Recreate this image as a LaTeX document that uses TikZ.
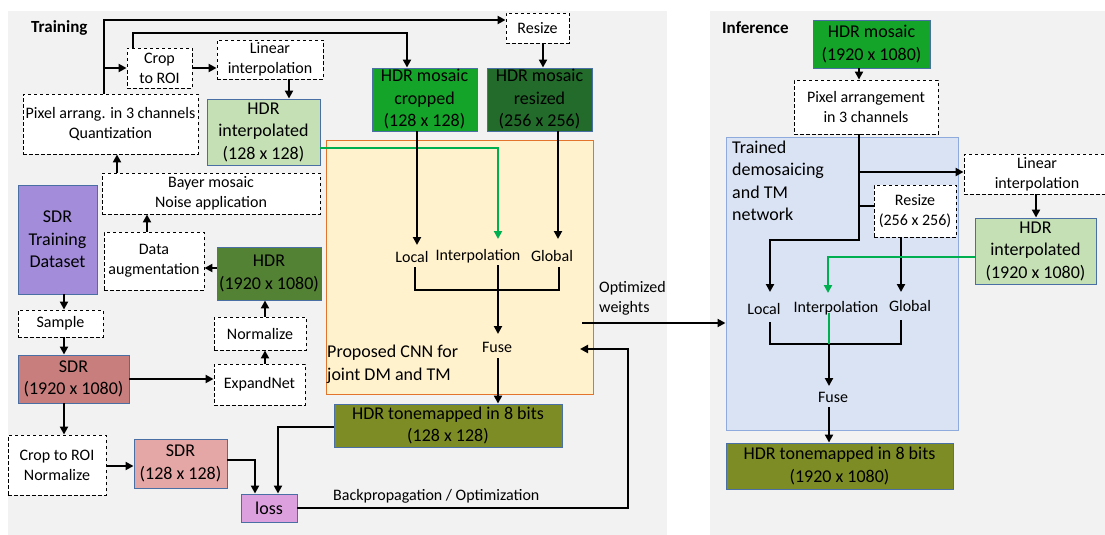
\documentclass[tikz,border=0pt]{standalone}
\usepackage{fontspec}
\setmainfont{Carlito}
\usetikzlibrary{arrows.meta}
\definecolor{panel}{HTML}{F2F2F2}
\definecolor{bgreen}{HTML}{14A42A}
\definecolor{dgreen}{HTML}{226B2B}
\definecolor{mgreen}{HTML}{548235}
\definecolor{lgreen}{HTML}{C5E0B4}
\definecolor{bbord}{HTML}{4A6FA5}
\definecolor{orfill}{HTML}{FFF2CC}
\definecolor{orbord}{HTML}{E2742C}
\definecolor{blfill}{HTML}{DAE3F3}
\definecolor{blbord}{HTML}{8FAADC}
\definecolor{olive}{HTML}{7E8C26}
\definecolor{rose}{HTML}{C87E7D}
\definecolor{pink}{HTML}{E5A6A6}
\definecolor{plum}{HTML}{DCA0DE}
\definecolor{purp}{HTML}{A38CDA}
\definecolor{gline}{HTML}{00B050}
\begin{document}
\begin{tikzpicture}[x=1pt,y=-1pt,
  big/.style={font=\fontsize{18}{22.5}\selectfont},
  small/.style={font=\fontsize{16}{20}\selectfont},
  dbox/.style={small,draw=black,fill=white,line width=0.9pt,dash pattern=on 3.5pt off 2.5pt,align=center,inner sep=0pt},
  cbox/.style={big,draw=bbord,line width=0.9pt,align=center,inner sep=0pt},
  lbl/.style={small,inner sep=1pt},
  ln/.style={line width=2.3pt},
  arr/.style={line width=2.3pt,-{Triangle[length=8pt,width=8pt]}},
  garr/.style={line width=2pt,draw=gline,-{Triangle[length=8pt,width=8pt]}},
  gln/.style={line width=2pt,draw=gline}]
\useasboundingbox (0,0) rectangle (1105,535);
% panels
\fill[panel] (8,11) rectangle (667,535);
\fill[panel] (710,11) rectangle (1105,535);
\node[font=\fontsize{17}{20}\selectfont\bfseries,anchor=west,inner sep=0pt] (ttl) at (31,28) {Training};
\node[font=\fontsize{17}{20}\selectfont\bfseries,anchor=west,inner sep=0pt] (ttl2) at (722,28) {Inference};
% containers
\node[draw=orbord,fill=orfill,line width=1pt,minimum width=267,minimum height=254,inner sep=0pt] (cnn) at (459.5,267) {};
\node[draw=blbord,fill=blfill,line width=1pt,minimum width=232,minimum height=293,inner sep=0pt] (net) at (842,283.5) {};
% training nodes
\node[dbox,minimum width=65,minimum height=40] (crop) at (159.5,68) {Crop\\to ROI};
\node[dbox,minimum width=106,minimum height=39] (lin) at (270,59.5) {Linear\\interpolation};
\node[dbox,minimum width=175,minimum height=60] (pix) at (110.5,124) {Pixel arrang. in 3 channels\\Quantization};
\node[cbox,fill=lgreen,minimum width=113,minimum height=66] (hdri) at (263.5,132) {HDR\\interpolated\\(128 x 128)};
\node[dbox,minimum width=63,minimum height=30] (resize) at (537.5,28) {Resize};
\node[cbox,fill=bgreen,minimum width=105,minimum height=63] (mcrop) at (424.5,99.5) {HDR mosaic\\cropped\\(128 x 128)};
\node[cbox,fill=dgreen,minimum width=105,minimum height=63] (mres) at (539.5,99.5) {HDR mosaic\\resized\\(256 x 256)};
\node[dbox,minimum width=218,minimum height=41] (bayer) at (211,193.5) {Bayer mosaic\\Noise application};
\node[cbox,fill=purp,minimum width=79,minimum height=109] (sdrds) at (57.5,239.5) {SDR\\Training\\Dataset};
\node[dbox,minimum width=100,minimum height=58] (aug) at (154,261) {Data\\augmentation};
\node[cbox,fill=mgreen,minimum width=104,minimum height=53] (hdr) at (269,273.5) {HDR\\(1920 x 1080)};
\node[dbox,minimum width=85,minimum height=27] (sample) at (60.5,323.5) {Sample};
\node[dbox,minimum width=92,minimum height=33] (norm) at (260,333.5) {Normalize};
\node[cbox,fill=rose,minimum width=111,minimum height=48] (sdr) at (73.5,379) {SDR\\(1920 x 1080)};
\node[dbox,minimum width=91,minimum height=41] (expand) at (259.5,384.5) {ExpandNet};
\node[dbox,minimum width=98,minimum height=60] (cropn) at (57,465) {Crop to ROI\\Normalize};
\node[cbox,fill=pink,minimum width=93,minimum height=49] (sdr128) at (180.5,463.5) {SDR\\(128 x 128)};
\node[cbox,fill=plum,minimum width=56,minimum height=28] (loss) at (269,508) {loss};
\node[cbox,fill=olive,minimum width=228,minimum height=43] (tm) at (448,425.5) {HDR tonemapped in 8 bits\\(128 x 128)};
\node[lbl] (local) at (412,257) {Local};
\node[lbl] (interp) at (478,256) {Interpolation};
\node[lbl] (global) at (552,256) {Global};
\node[lbl] (fuse) at (497,347) {Fuse};
\node[big,anchor=west,align=left,inner sep=0pt] (cnnt) at (327,364.5) {Proposed CNN for\\joint DM and TM};
\node[small,anchor=west,align=left,inner sep=0pt] (optw) at (599,298) {Optimized\\weights};
\node[small,anchor=west,inner sep=0pt] (bp) at (333,496) {Backpropagation / Optimization};
% training connectors
\coordinate (t1) at (104,20);
\coordinate (t2) at (133,33);
\coordinate (t2a) at (407,33);
\draw[arr] (pix.north -| t1) |- (resize.west |- t1);
\draw[arr] (crop.west -| t1) -- (crop.west);
\draw[arr] (crop.north -| t2) -- (t2) -- (t2a) -- (mcrop.north -| t2a);
\draw[arr] (crop.east) -- (lin.west |- crop.east);
\coordinate (c1) at (289,0);
\draw[arr] (lin.south -| c1) -- (hdri.north -| c1);
\coordinate (c2) at (543,0);
\draw[arr] (resize.south -| c2) -- (mres.north -| c2);
\coordinate (g1) at (498,148);
\draw[garr] (hdri.east |- g1) -- (g1) -- (498,239);
\coordinate (c3) at (417,0);
\draw[arr] (mcrop.south -| c3) -- (417,245);
\coordinate (c4) at (558,0);
\draw[arr] (mres.south -| c4) -- (558,239);
\draw[ln] (415,267) -- (415,290) -- (559,290) -- (559,267);
\draw[arr] (498,265) -- (498,334);
\draw[arr] (498,358) -- (tm.north -| 498,0);
\coordinate (c5) at (278,427);
\draw[arr] (tm.west |- c5) -- (c5) -- (loss.north -| c5);
\coordinate (c6) at (255,460);
\draw[arr] (sdr128.east |- c6) -- (c6) -- (loss.north -| c6);
\draw[arr] (cropn.east |- 0,466) -- (sdr128.west |- 0,466);
\coordinate (c7) at (64,0);
\draw[arr] (sdr.south -| c7) -- (cropn.north -| c7);
\draw[arr] (sdr.east) -- (expand.west |- sdr.east);
\coordinate (c8) at (265,0);
\draw[arr] (expand.north -| c8) -- (norm.south -| c8);
\draw[arr] (norm.north -| c8) -- (hdr.south -| c8);
\draw[arr] (hdr.west |- 0,268) -- (aug.east |- 0,268);
\coordinate (c9) at (147,0);
\draw[arr] (aug.north -| c9) -- (bayer.south -| c9);
\coordinate (c10) at (117,0);
\draw[arr] (bayer.north -| c10) -- (pix.south -| c10);
\draw[arr] (sdrds.south -| c7) -- (sample.north -| c7);
\draw[arr] (sample.south -| c7) -- (sdr.north -| c7);
\coordinate (c11) at (628,508);
\draw[arr] (loss.east) -- (c11) -- (628,349) -- (580,349);
\draw[arr] (582,323) -- (net.west |- 0,323);
% inference nodes
\node[cbox,fill=bgreen,minimum width=117,minimum height=48] (imos) at (871.5,44) {HDR mosaic\\(1920 x 1080)};
\node[dbox,minimum width=144,minimum height=54] (ipix) at (866,107) {Pixel arrangement\\in 3 channels};
\node[big,anchor=west,align=left,inner sep=0pt] (nett) at (732,181) {Trained\\demosaicing\\and TM\\network};
\node[dbox,minimum width=146,minimum height=40] (ilin) at (1037,174) {Linear\\interpolation};
\node[cbox,fill=lgreen,minimum width=121,minimum height=66] (ihdri) at (1035.5,251) {HDR\\interpolated\\(1920 x 1080)};
\node[dbox,minimum width=82,minimum height=52] (iresize) at (915,211) {Resize\\(256 x 256)};
\node[cbox,fill=olive,minimum width=227,minimum height=46] (itm) at (839.5,466) {HDR tonemapped in 8 bits\\(1920 x 1080)};
\node[lbl] (ilocal) at (764,309) {Local};
\node[lbl] (iinterp) at (836,308) {Interpolation};
\node[lbl] (iglobal) at (910,306) {Global};
\node[lbl] (ifuse) at (833,397) {Fuse};
% inference connectors
\coordinate (d1) at (859,0);
\draw[arr] (imos.south -| d1) -- (ipix.north -| d1);
\draw[arr] (ipix.south -| d1) -- (859,240) -- (770,240) -- (770,292);
\draw[arr] (859,172) -- (ilin.west |- 0,172);
\draw[ln] (859,206) -- (iresize.west |- 0,206);
\coordinate (d2) at (901,0);
\draw[arr] (iresize.south -| d2) -- (901,292);
\coordinate (d3) at (1036,0);
\draw[arr] (ilin.south -| d3) -- (ihdri.north -| d3);
\draw[garr] (ihdri.west |- 0,257) -- (828,257) -- (828,293);
\draw[ln] (770,322) -- (770,344) -- (901,344) -- (901,320);
\draw[gln] (829,313) -- (829,344);
\draw[arr] (829,344) -- (829,386);
\draw[arr] (829,407) -- (itm.north -| 829,0);
\end{tikzpicture}
\end{document}
